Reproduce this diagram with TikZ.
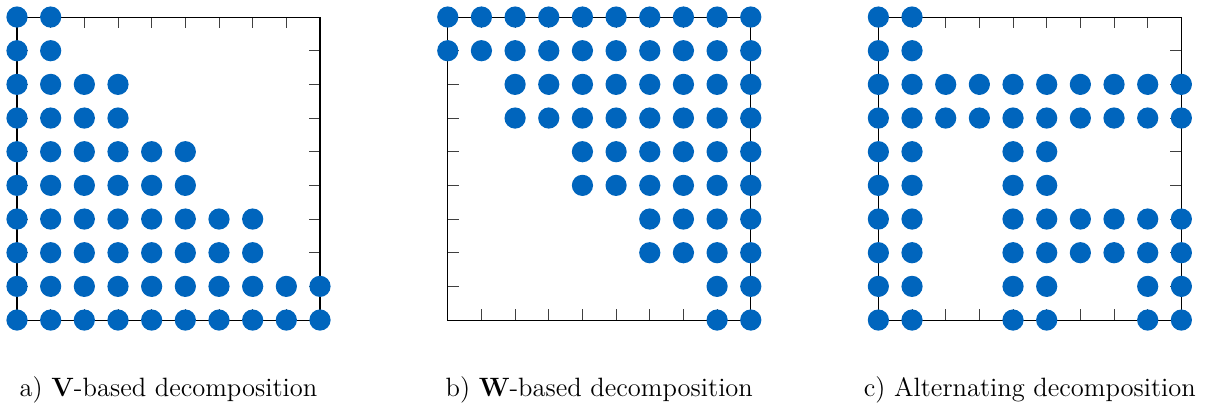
\documentclass[tikz,border=0pt]{standalone}
\usepackage{tikz}
\definecolor{dotblue}{RGB}{0,101,189}
\tikzset{
  frame/.style = {draw=black, line width=0.5pt},
  tick/.style = {draw=black!75, line width=0.4pt},
  caption/.style = {anchor=base, inner sep=0pt, font=\fontsize{12.6}{15}\selectfont},
  dotblock/.pic = {
    \foreach \di in {0,1}
      \foreach \dj in {0,1}
        \fill[dotblue] (\di,-\dj) circle (0.315);
  }
}

\begin{document}
\begin{tikzpicture}[x=16pt, y=16pt]
\useasboundingbox (0,0) rectangle (36,12.12);

% Panel origins
\coordinate (pa) at (0.505,2.614);
\coordinate (pb) at (13.3,2.614);
\coordinate (pc) at (26.09,2.614);

% Frames and ticks
\foreach \p in {pa,pb,pc} {
  \begin{scope}[shift={(\p)}]
    \foreach \k in {1,...,8} {
      \draw[tick] (\k,0) -- ++(0,0.33);
      \draw[tick] (\k,9) -- ++(0,-0.33);
      \draw[tick] (0,\k) -- ++(0.33,0);
      \draw[tick] (9,\k) -- ++(-0.33,0);
    }
    \draw[frame] (0,0) rectangle (9,9);
  \end{scope}
}

% a) V-based
\begin{scope}[shift={(pa)}]
  \foreach \r in {0,...,4}
    \foreach \c in {0,...,\r}
      \pic at ({2*\c},{9-2*\r}) {dotblock};
\end{scope}

% b) W-based
\begin{scope}[shift={(pb)}]
  \foreach \r in {0,...,4}
    \foreach \c in {\r,...,4}
      \pic at ({2*\c},{9-2*\r}) {dotblock};
\end{scope}

% c) Alternating
\begin{scope}[shift={(pc)}]
  \foreach \c/\r in {0/0, 0/1,1/1,2/1,3/1,4/1, 0/2,2/2, 0/3,2/3,3/3,4/3, 0/4,2/4,4/4}
    \pic at ({2*\c},{9-2*\r}) {dotblock};
\end{scope}

% Captions
\node[caption] (capa) at (5.005,0.34) {a) \textbf{V}-based decomposition};
\node[caption] (capb) at (17.8,0.34) {b) \textbf{W}-based decomposition};
\node[caption] (capc) at (30.59,0.34) {c) Alternating decomposition};

\end{tikzpicture}
\end{document}
